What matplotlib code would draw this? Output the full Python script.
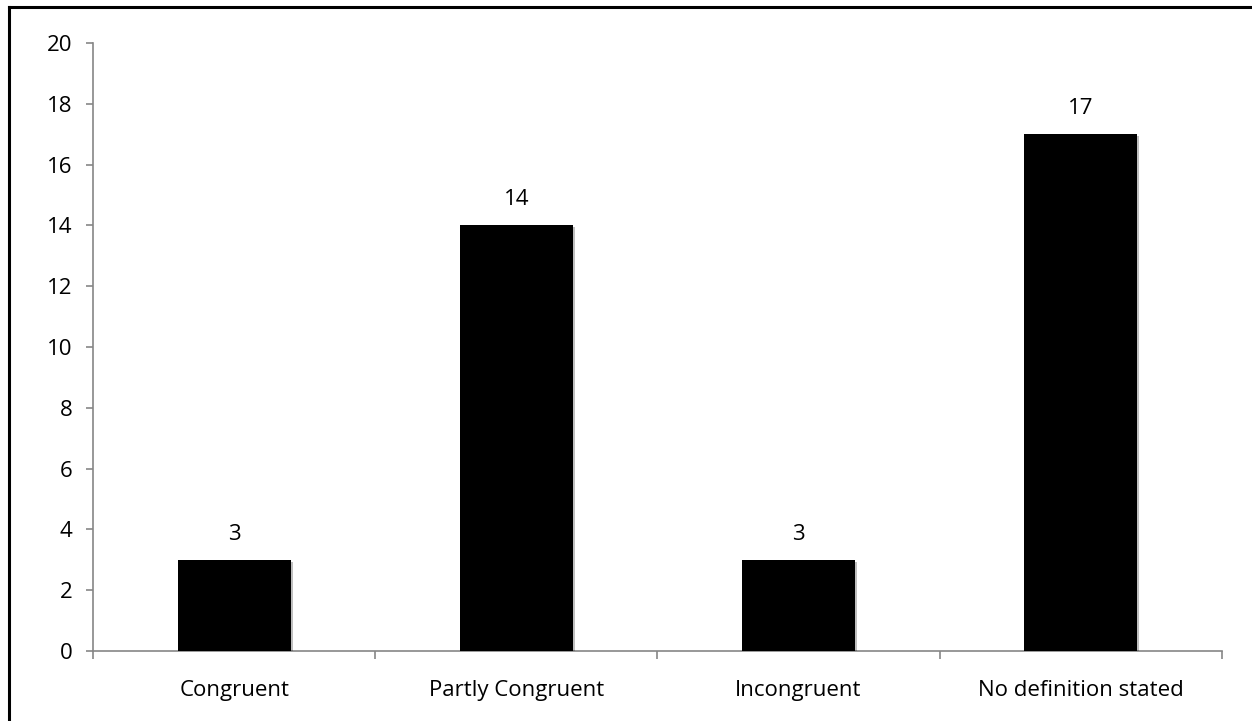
import numpy as np
import matplotlib.pyplot as plt
import matplotlib.patheffects as pe
from matplotlib.lines import Line2D

plt.rcParams['font.family'] = ['Open Sans', 'DejaVu Sans']

categories = ["Congruent", "Partly Congruent", "Incongruent", "No definition stated"]
counts = [3, 14, 3, 17]
yticks = np.arange(0, 21, 2)

fig = plt.figure(figsize=(12.52, 7.21), dpi=100)
ax = fig.add_axes([0.0743, 0.0971, 0.9017, 0.8433])

index = np.arange(len(categories))
bars = ax.bar(index, counts, width=0.4, color='black', zorder=3,
              path_effects=[pe.SimplePatchShadow(offset=(1.5, -1.5), alpha=0.25), pe.Normal()])

# value labels above each bar
for x, v in zip(index, counts):
    ax.annotate(str(v), (x, v), xytext=(0, 11), textcoords='offset points',
                ha='center', va='bottom', fontsize=16)

ax.set_xlim(-0.5, len(categories) - 0.5)
ax.set_ylim(0, 20)
ax.set_yticks(yticks)
ax.set_xticks(index)
ax.set_xticklabels(categories, fontsize=16)
ax.tick_params(axis='x', length=0, pad=21)
ax.set_xticks(np.arange(-0.5, len(categories)), minor=True)
ax.tick_params(axis='x', which='minor', length=6, color='#868686', width=1.2)
ax.tick_params(axis='y', length=5, color='#868686', width=1.2, labelsize=16, pad=10)

for s in ['top', 'right']:
    ax.spines[s].set_visible(False)
for s in ['left', 'bottom']:
    ax.spines[s].set_color('#868686')
    ax.spines[s].set_linewidth(1.2)

# outer chart frame (left and top edges)
fig.add_artist(Line2D([9 / 1252, 9 / 1252], [0, 1 - 7 / 721], color='black', lw=2.2))
fig.add_artist(Line2D([9 / 1252, 1], [1 - 7 / 721, 1 - 7 / 721], color='black', lw=2.2))

fig.savefig('out.png', dpi=100)
